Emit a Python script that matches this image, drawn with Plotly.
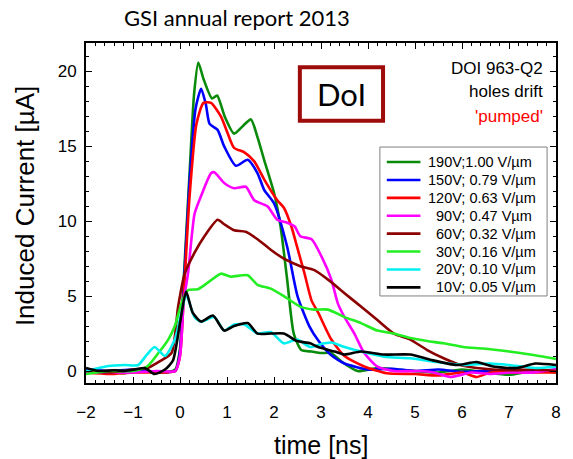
import plotly.graph_objects as go

# Induced current transients, DOI 963-Q2, holes drift ('pumped' state)
labels = [
    "190V;1.00 V/µm",
    "150V; 0.79 V/µm",
    "120V; 0.63 V/µm",
    "\u00a0\u00a090V; 0.47 Vµm",
    "\u00a0\u00a060V; 0.32 V/µm",
    "\u00a0\u00a030V; 0.16 V/µm",
    "\u00a0\u00a020V; 0.10 V/µm",
    "\u00a0\u00a010V; 0.05 V/µm",
]
colors = ["#0a8a0a", "#0000ff", "#ff0000", "#ff00ff", "#8b0000", "#22ee22", "#00f0f0", "#000000"]

t_190 = [-2, -1.6, -1.2, -0.8, -0.4, -0.1, 0, 0.06, 0.2, 0.3, 0.39, 0.5, 0.68, 0.79, 0.95, 1.15, 1.35, 1.51,
         1.65, 1.79, 2.0, 2.14, 2.28, 2.42, 2.58, 2.8, 3.0, 3.21, 3.45, 3.78, 4.2, 4.6, 5.0, 5.5, 6.0, 6.5,
         7.0, 7.5, 8.0]
i_190 = [-0.1, 0, -0.15, 0.05, -0.1, 0.1, 1.5, 5, 13, 18.5, 20.6, 19.5, 18.2, 18.4, 17.0, 15.85, 16.4, 16.8,
         15.6, 14.1, 11.9, 9.65, 6.1, 2.5, 1.4, 1.3, 1.2, 1.2, 0.6, 0.0, 0.2, 0.1, 0.0, -0.1, 0.1, -0.1,
         -0.25, 0.0, -0.1]

t_150 = [-2, -1.5, -1, -0.5, -0.1, 0, 0.07, 0.2, 0.33, 0.45, 0.55, 0.63, 0.8, 0.94, 1.19, 1.44, 1.65, 1.79,
         2.0, 2.28, 2.5, 2.75, 2.95, 3.2, 3.5, 4.0, 4.5, 5.0, 5.5, 6.0, 6.5, 7.0, 7.5, 8.0]
i_150 = [0.1, 0, 0.1, -0.05, 0, 1.3, 5, 12.5, 17.5, 18.85, 17.8, 16.5, 16.1, 15.0, 13.7, 14.1, 13.2, 12.1,
         11.2, 8.3, 5.0, 3.0, 2.0, 1.1, 0.5, 0.1, 0.15, 0, 0.1, -0.05, 0, 0.1, 0, 0.1]

t_120 = [-2, -1.5, -1, -0.5, -0.1, 0, 0.08, 0.2, 0.35, 0.5, 0.66, 0.87, 1.01, 1.15, 1.37, 1.58, 1.79, 2.07,
         2.21, 2.37, 2.49, 2.65, 2.8, 2.94, 3.22, 3.5, 3.92, 4.4, 5.0, 5.5, 6.0, 6.31, 6.6, 7.0, 7.5, 8.0]
i_120 = [-0.1, -0.2, -0.1, -0.1, 0, 1, 5, 11.5, 16.5, 17.9, 17.9, 17.0, 15.9, 14.9, 14.6, 14.0, 12.8, 11.4,
         10.9, 9.65, 8.3, 6.5, 4.7, 3.9, 2.1, 1.0, 0.3, -0.15, -0.2, -0.3, -0.1, -0.4, -0.1, -0.1, -0.1, -0.1]

t_90 = [-2, -1.5, -1, -0.5, -0.1, 0, 0.08, 0.17, 0.31, 0.45, 0.66, 0.73, 0.94, 1.15, 1.4, 1.58, 1.86, 2.07,
        2.28, 2.44, 2.56, 2.8, 3.01, 3.22, 3.36, 3.5, 3.71, 3.92, 4.2, 4.55, 5.05, 5.4, 5.75, 6.2, 6.6, 7.0,
        7.5, 8.0]
i_90 = [-0.1, -0.1, -0.1, 0, 0, 1, 4.7, 6.5, 10.5, 11.7, 13.2, 13.27, 12.55, 12.2, 12.3, 11.4, 11.0, 10.1,
        9.9, 9.65, 9.0, 8.8, 7.65, 6.1, 4.5, 3.6, 2.5, 1.2, 0.3, 0, 0, -0.1, -0.4, -0.1, -0.2, -0.1,
        -0.1, 0.1]

t_60 = [-2, -1.5, -1, -0.7, -0.46, -0.18, -0.04, 0.1, 0.31, 0.52, 0.8, 0.94, 1.15, 1.4, 1.65, 1.93, 2.21,
        2.56, 2.85, 3.15, 3.5, 3.85, 4.2, 4.55, 4.9, 5.26, 5.61, 5.96, 6.31, 7.0, 7.5, 8.0]
i_60 = [0, -0.1, 0.1, 0.2, 0.6, 1.2, 4.3, 6.5, 7.9, 9.0, 10.1, 9.8, 9.4, 9.3, 8.8, 8.1, 7.5,
        7.0, 6.75, 6.1, 5.2, 4.3, 3.4, 2.5, 2.1, 1.4, 0.85, 0.4, 0.2, 0.05, 0.1, 0]

t_30 = [-2, -1.5, -1, -0.7, -0.46, -0.25, -0.11, 0.03, 0.17, 0.38, 0.59, 0.87, 1.08, 1.44, 1.65, 1.93, 2.21,
        2.56, 2.85, 3.15, 3.5, 3.85, 4.2, 4.55, 4.9, 5.26, 5.61, 6.03, 6.45, 7.0, 7.45, 8.0]
i_30 = [-0.2, 0, 0, 0.3, 1.2, 2.1, 3.0, 4.5, 5.4, 5.46, 5.9, 6.5, 6.3, 6.4, 5.75, 5.5, 5.0,
        4.3, 4.1, 4.1, 3.6, 3.2, 2.7, 2.5, 2.2, 2.0, 1.85, 1.6, 1.5, 1.3, 1.1, 0.8]

t_20 = [-2, -1.52, -1.17, -0.89, -0.71, -0.54, -0.32, -0.11, 0.03, 0.13, 0.31, 0.45, 0.73, 0.94, 1.15, 1.37,
        1.65, 1.93, 2.21, 2.49, 2.77, 3.0, 3.22, 3.5, 3.85, 4.34, 4.9, 5.47, 6.03, 6.59, 7.0, 7.56, 8.0]
i_20 = [0, 0.33, 0.4, 0.4, 1.07, 1.6, 1.0, 2.1, 3.9, 5.1, 3.6, 3.3, 3.6, 2.7, 3.1, 3.1,
        2.5, 2.6, 1.85, 2.1, 1.6, 1.8, 1.9, 1.6, 1.3, 0.95, 0.85, 0.6, 0.4, 0.5, 0.4, 0.2, 0.3]

t_10 = [-2, -1.73, -1.4, -1.17, -0.95, -0.75, -0.54, -0.32, -0.15, 0, 0.13, 0.27, 0.45, 0.7, 0.94, 1.15,
        1.44, 1.65, 1.93, 2.21, 2.49, 2.77, 2.94, 3.29, 3.5, 3.85, 4.34, 4.9, 5.33, 5.89, 6.31, 6.66, 7.17,
        7.56, 8.0]
i_10 = [0.2, 0, 0.05, 0, 0.1, 0.2, -0.2, 0.1, 0.7, 3.2, 5.3, 3.9, 3.3, 3.7, 2.7, 3.0,
        3.2, 2.5, 2.5, 2.5, 2.0, 1.85, 1.6, 1.3, 1.1, 1.3, 1.1, 1.1, 0.75, 0.4, 0.6, 0.3, 0.2,
        0.5, 0.4]

times = [t_190, t_150, t_120, t_90, t_60, t_30, t_20, t_10]
currents = [i_190, i_150, i_120, i_90, i_60, i_30, i_20, i_10]

LINE_W = 2.6

fig = go.Figure()
for name, col, t, cur in zip(labels, colors, times, currents):
    fig.add_trace(go.Scatter(
        x=t, y=cur, name=name, mode="lines", showlegend=False,
        line=dict(color=col, width=LINE_W, shape="spline", smoothing=0.6),
    ))

axis_common = dict(
    showline=True, linecolor="black", linewidth=2, mirror="allticks",
    ticks="inside", ticklen=6, tickwidth=1.3, tickcolor="black",
    showgrid=False, zeroline=False,
    tickfont=dict(family="Liberation Sans, Arial", size=17, color="black"),
)

fig.update_xaxes(
    range=[-2, 8], dtick=1, tick0=0, ticklabelstandoff=13,
    minor=dict(ticks="inside", ticklen=3, dtick=0.2, tickcolor="black", tickwidth=1),
    **axis_common,
)
fig.update_yaxes(
    range=[-0.8, 21.9], dtick=5, tick0=0, ticklabelstandoff=4,
    minor=dict(ticks="inside", ticklen=3, dtick=1, tickcolor="black", tickwidth=1),
    **axis_common,
)

side_font = dict(family="Liberation Sans, Arial", size=17, color="black")

# Legend panel (boxed key with right-aligned voltage column)
legend_box = dict(x0=0.6253, x1=0.981, y0=0.256, y1=0.694)
key_x0, key_x1, text_x = 0.640, 0.7116, 0.7242
row_top, row_step = 0.6499, 0.05265

shapes = [
    dict(type="rect", xref="paper", yref="paper",
         x0=0.455, x1=0.632, y0=0.771, y1=0.929,
         line=dict(color="#9e0b0b", width=4), fillcolor="rgba(0,0,0,0)"),
    dict(type="rect", xref="paper", yref="paper", fillcolor="white",
         line=dict(color="#808080", width=1), **legend_box),
]
annotations = [
    dict(text="GSI annual report 2013", xref="paper", yref="paper", x=0.322, y=1.074,
         xanchor="center", yanchor="middle",
         showarrow=False, font=dict(family="Lato", size=22, color="black")),
    dict(text="DoI", xref="paper", yref="paper", x=0.5435, y=0.85,
         xanchor="center", yanchor="middle",
         showarrow=False, font=dict(family="Lato", size=31, color="black")),
    dict(text="DOI 963-Q2", xref="paper", yref="paper", x=0.976, y=0.926,
         xanchor="right", yanchor="middle", showarrow=False, font=side_font),
    dict(text="holes drift", xref="paper", yref="paper", x=0.976, y=0.856,
         xanchor="right", yanchor="middle", showarrow=False, font=side_font),
    dict(text="'pumped'", xref="paper", yref="paper", x=0.976, y=0.785,
         xanchor="right", yanchor="middle", showarrow=False,
         font=dict(family="Liberation Sans, Arial", size=17, color="#ff0000")),
    dict(text="Induced Current [µA]", xref="paper", yref="paper", x=-0.13, y=0.52,
         xanchor="center", yanchor="middle", textangle=-90, showarrow=False,
         font=dict(family="Liberation Sans, Arial", size=26, color="black")),
    dict(text="time [ns]", xref="paper", yref="paper", x=0.5, y=-0.182,
         xanchor="center", yanchor="middle", showarrow=False,
         font=dict(family="Liberation Sans, Arial", size=25, color="black")),
]

for k, (name, col) in enumerate(zip(labels, colors)):
    yk = row_top - k * row_step
    shapes.append(dict(type="line", xref="paper", yref="paper",
                       x0=key_x0, x1=key_x1, y0=yk, y1=yk,
                       line=dict(color=col, width=LINE_W)))
    annotations.append(dict(text=name, xref="paper", yref="paper", x=text_x, y=yk,
                            xanchor="left", yanchor="middle", showarrow=False,
                            font=dict(family="Liberation Sans, Arial", size=14.5, color="black")))

fig.update_layout(
    width=573, height=459,
    margin=dict(l=86, r=12, t=43, b=76),
    paper_bgcolor="white", plot_bgcolor="white",
    showlegend=False,
    shapes=shapes,
    annotations=annotations,
)

fig.write_html("out.html")
